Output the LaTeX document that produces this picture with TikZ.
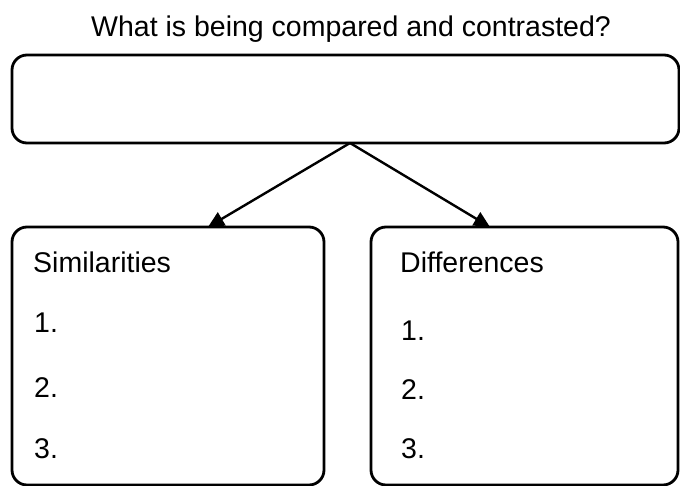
\documentclass[tikz,border=0pt]{standalone}
\usepackage{fontspec}
\setmainfont{Liberation Sans}
\usetikzlibrary{arrows.meta}
\begin{document}
\begin{tikzpicture}[x=1pt,y=-1pt,
  box/.style={draw=black, line width=2.8pt, rounded corners=15pt, inner sep=0pt},
  lbl/.style={anchor=base west, inner sep=0pt, font=\fontsize{28.5}{32}\selectfont, text=black},
  conn/.style={draw=black, line width=2.4pt, -{Triangle[length=16pt,width=15pt]}}]
\useasboundingbox (0,0) rectangle (680,486);
\node[anchor=base, inner sep=0pt, font=\fontsize{28.5}{32}\selectfont, text=black] (title) at (351,37) {What is being compared and contrasted?};
\node[box, minimum width=667pt, minimum height=88pt] (top) at (345.5,99) {};
\node[box, minimum width=312pt, minimum height=258pt] (left) at (168,356) {};
\node[box, minimum width=307pt, minimum height=258pt] (right) at (524.5,356) {};
\coordinate (src) at (350,143);
\coordinate (lt) at (208,227);
\coordinate (rt) at (490,227);
\draw[conn] (src) -- (lt);
\draw[conn] (src) -- (rt);
\node[lbl] (sim) at (33,273) {Similarities};
\node[lbl] (s1) at (34,333) {1.};
\node[lbl] (s2) at (34,397) {2.};
\node[lbl] (s3) at (34,458) {3.};
\node[lbl] (dif) at (400,273) {Differences};
\node[lbl] (d1) at (401,341) {1.};
\node[lbl] (d2) at (401,399) {2.};
\node[lbl] (d3) at (401,458) {3.};
\end{tikzpicture}
\end{document}
